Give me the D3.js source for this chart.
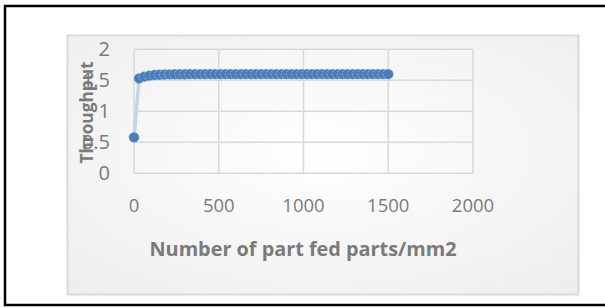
<!DOCTYPE html>
<html><head><meta charset="utf-8">
<script src="https://cdn.jsdelivr.net/npm/d3@7"></script>
<style>html,body{margin:0;padding:0;background:#fff;}svg{display:block;}</style>
</head><body>
<script>
const partsFed = [0,30,60,90,120,150,180,210,240,270,300,330,360,390,420,450,480,510,540,570,600,630,660,690,720,750,780,810,840,870,900,930,960,990,1020,1050,1080,1110,1140,1170,1200,1230,1260,1290,1320,1350,1380,1410,1440,1470,1500];
const throughput = [0.58,1.53,1.56,1.575,1.585,1.59,1.593,1.595,1.597,1.598,1.598,1.599,1.599,1.599,1.6,1.6,1.6,1.6,1.6,1.6,1.6,1.6,1.6,1.6,1.6,1.6,1.6,1.6,1.6,1.6,1.6,1.6,1.6,1.6,1.6,1.6,1.6,1.6,1.6,1.6,1.6,1.6,1.6,1.6,1.6,1.6,1.6,1.6,1.6,1.6,1.6];
const xTicks = [0,500,1000,1500,2000];
const yTicks = [0,0.5,1,1.5,2];
const xTitle = "Number of part fed parts/mm2";
const yTitle = "Throughput";

const W=605,H=308;
const svg=d3.select("body").append("svg").attr("width",W).attr("height",H);
const defs=svg.append("defs");
const g=defs.append("radialGradient").attr("id","bg").attr("cx","50%").attr("cy","45%").attr("r","75%");
g.append("stop").attr("offset","0%").attr("stop-color","#ffffff");
g.append("stop").attr("offset","100%").attr("stop-color","#ededed");

svg.append("rect").attr("x",5).attr("y",6).attr("width",620).attr("height",299)
  .attr("fill","#fff").attr("stroke","#000").attr("stroke-width",2.5);
svg.append("rect").attr("x",67.5).attr("y",35.5).attr("width",511).attr("height",259)
  .attr("fill","url(#bg)").attr("stroke","#dadada").attr("stroke-width",2);

const x=d3.scaleLinear().domain([0,2000]).range([134,473]);
const y=d3.scaleLinear().domain([0,2]).range([173.3,49.3]);

svg.append("g").selectAll("line").data(yTicks).join("line")
  .attr("x1",x(0)).attr("x2",x(2000)).attr("y1",d=>y(d)).attr("y2",d=>y(d))
  .attr("stroke","#d9d9d9").attr("stroke-width",1.5);
svg.append("g").selectAll("line").data(xTicks).join("line")
  .attr("y1",y(0)).attr("y2",y(2)).attr("x1",d=>x(d)).attr("x2",d=>x(d))
  .attr("stroke","#d9d9d9").attr("stroke-width",1.5);

svg.append("g").selectAll("text").data(xTicks).join("text")
  .attr("x",d=>x(d)).attr("y",212).attr("text-anchor","middle")
  .attr("font-family","'Open Sans',sans-serif").attr("font-size",18.5).attr("fill","#7a7a7a")
  .text(d=>d);
svg.append("g").selectAll("text").data(yTicks).join("text")
  .attr("x",110).attr("y",d=>y(d)+7).attr("text-anchor","end")
  .attr("font-family","'Open Sans',sans-serif").attr("font-size",20).attr("fill","#7a7a7a")
  .text(d=>d);

svg.append("text").attr("x",303).attr("y",256).attr("text-anchor","middle")
  .attr("font-family","'Open Sans',sans-serif").attr("font-weight","bold").attr("font-size",19)
  .attr("fill","#7a7a7a").attr("textLength",307).attr("lengthAdjust","spacingAndGlyphs").text(xTitle);
svg.append("text").attr("transform","translate(93,112.5) rotate(-90)").attr("text-anchor","middle")
  .attr("font-family","'Open Sans',sans-serif").attr("font-weight","bold").attr("font-size",17)
  .attr("fill","#7a7a7a").attr("textLength",102).attr("lengthAdjust","spacingAndGlyphs").text(yTitle);

const pts=partsFed.map((v,i)=>[v,throughput[i]]);
svg.append("path").datum(pts)
  .attr("d",d3.line().x(d=>x(d[0])).y(d=>y(d[1])))
  .attr("fill","none").attr("stroke","#c3d3ea").attr("stroke-width",3.5);
svg.append("g").selectAll("circle").data(pts).join("circle")
  .attr("cx",d=>x(d[0])).attr("cy",d=>y(d[1])).attr("r",5.2)
  .attr("fill","#4a7ebb").attr("stroke","#d8e2f0").attr("stroke-width",0.6).attr("stroke-dasharray","1.5,1.5");
</script>
</body></html>
